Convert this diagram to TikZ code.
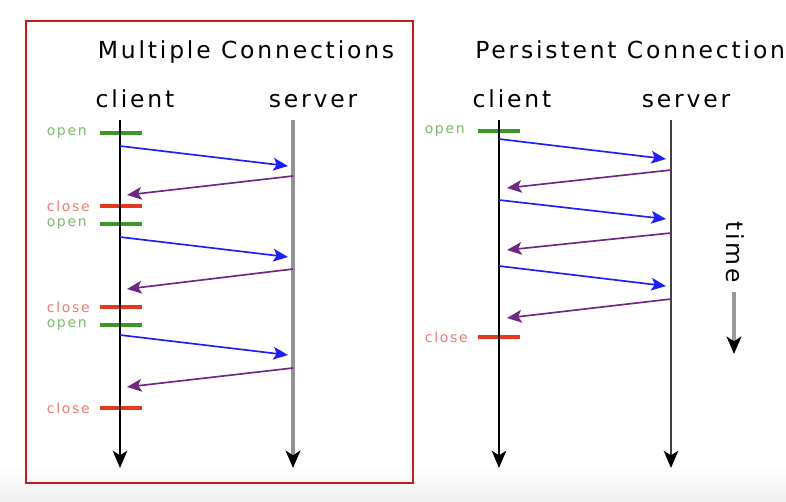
\documentclass[tikz,border=0pt]{standalone}
\usepackage{fontspec}
\setmainfont{DejaVu Sans}
\newfontfamily\spaced{DejaVu Sans}[LetterSpace=12]
\usetikzlibrary{arrows.meta}
\definecolor{boxred}{RGB}{200,28,28}
\definecolor{opengreen}{RGB}{60,150,40}
\definecolor{openlabel}{RGB}{125,185,105}
\definecolor{closered}{RGB}{228,55,30}
\definecolor{closelabel}{RGB}{235,125,115}
\definecolor{reqblue}{RGB}{30,30,250}
\definecolor{resppurple}{RGB}{110,40,130}
\begin{document}
\begin{tikzpicture}[x=0.75pt,y=-0.75pt,
	title/.style={ font=\spaced\fontsize{17.6}{20}\selectfont, anchor=base, inner sep=0pt },
	lbl/.style={ font=\spaced\fontsize{10.5}{12}\selectfont, anchor=east, inner sep=0pt },
	lifeline/.style={ line width=1.3pt, -{Stealth[length=13pt,width=11pt,inset=3.5pt,color=black]} },
	tickopen/.style={ opengreen, line width=2.3pt },
	tickclose/.style={ closered, line width=2.3pt },
	req/.style={ reqblue, line width=1.25pt, -{Stealth[length=11pt,width=9.5pt,inset=2.5pt]} },
	resp/.style={ resppurple, line width=1.25pt, -{Stealth[length=11pt,width=9.5pt,inset=2.5pt]} }
]

\useasboundingbox (0,0) rectangle (786,501);
\clip (0,0) rectangle (786,501);
\fill[white] (0,0) rectangle (786,501);
\shade[top color=white, bottom color=black!6] (0,466) rectangle (786,501);

\draw[boxred, line width=1.5pt] (26,21) rectangle (413,483);

\node at (246,58) (mtitle) [title] {Multiple Connections};
\node at (135,107) (mclient) [title] {client};
\node at (313,107) (mserver) [title] {server};

\foreach \y/\n in {133/1,224/2,325/3} {
	\coordinate (mo\n a) at (100,\y);
	\coordinate (mo\n b) at (142,\y);
	\draw[tickopen] (mo\n a) -- (mo\n b);
	\node at (87,\y) (mol\n) [lbl,openlabel] {open};
}
\foreach \y/\n in {206/1,307/2,408/3} {
	\coordinate (mx\n a) at (100,\y);
	\coordinate (mx\n b) at (142,\y);
	\draw[tickclose] (mx\n a) -- (mx\n b);
	\node at (90,\y) (mxl\n) [lbl,closelabel] {close};
}

\coordinate (mc0) at (120,120);
\coordinate (mc1) at (120,468);
\coordinate (ms0) at (293,120);
\coordinate (ms1) at (293,468);
\draw[lifeline] (mc0) -- (mc1);
\draw[lifeline, gray!85, line width=2.6pt] (ms0) -- (ms1);

\foreach \a/\b/\c/\d/\n in {146/166/176/195/1,237/257/269/289/2,335/355/368/387/3} {
	\coordinate (mq\n a) at (120,\a);
	\coordinate (mq\n b) at (288,\b);
	\coordinate (mr\n a) at (293,\c);
	\coordinate (mr\n b) at (127,\d);
	\draw[req] (mq\n a) -- (mq\n b);
	\draw[resp] (mr\n a) -- (mr\n b);
}

\node at (475,58) (ptitle) [title,anchor=base west] {Persistent Connections};
\node at (512,107) (pclient) [title] {client};
\node at (686,107) (pserver) [title] {server};

\coordinate (po a) at (478,131);
\coordinate (po b) at (520,131);
\draw[tickopen] (po a) -- (po b);
\node at (465,131) (pol) [lbl,openlabel] {open};
\coordinate (px a) at (478,337);
\coordinate (px b) at (520,337);
\draw[tickclose] (px a) -- (px b);
\node at (468,337) (pxl) [lbl,closelabel] {close};

\coordinate (pc0) at (499,120);
\coordinate (pc1) at (499,468);
\coordinate (ps0) at (671,120);
\coordinate (ps1) at (671,468);
\draw[lifeline] (pc0) -- (pc1);
\draw[lifeline, black!75] (ps0) -- (ps1);

\foreach \a/\b/\c/\d/\n in {139/159/170/188/1,200/219/233/250/2,266/286/299/318/3} {
	\coordinate (pq\n a) at (499,\a);
	\coordinate (pq\n b) at (666,\b);
	\coordinate (pr\n a) at (671,\c);
	\coordinate (pr\n b) at (507,\d);
	\draw[req] (pq\n a) -- (pq\n b);
	\draw[resp] (pr\n a) -- (pr\n b);
}

\node at (735,252) (timelbl) [title,anchor=center,rotate=-90] {time};
\coordinate (t0) at (734,292);
\coordinate (t1) at (734,354);
\draw[lifeline, gray!80, line width=2.4pt] (t0) -- (t1);

\end{tikzpicture}
\end{document}
